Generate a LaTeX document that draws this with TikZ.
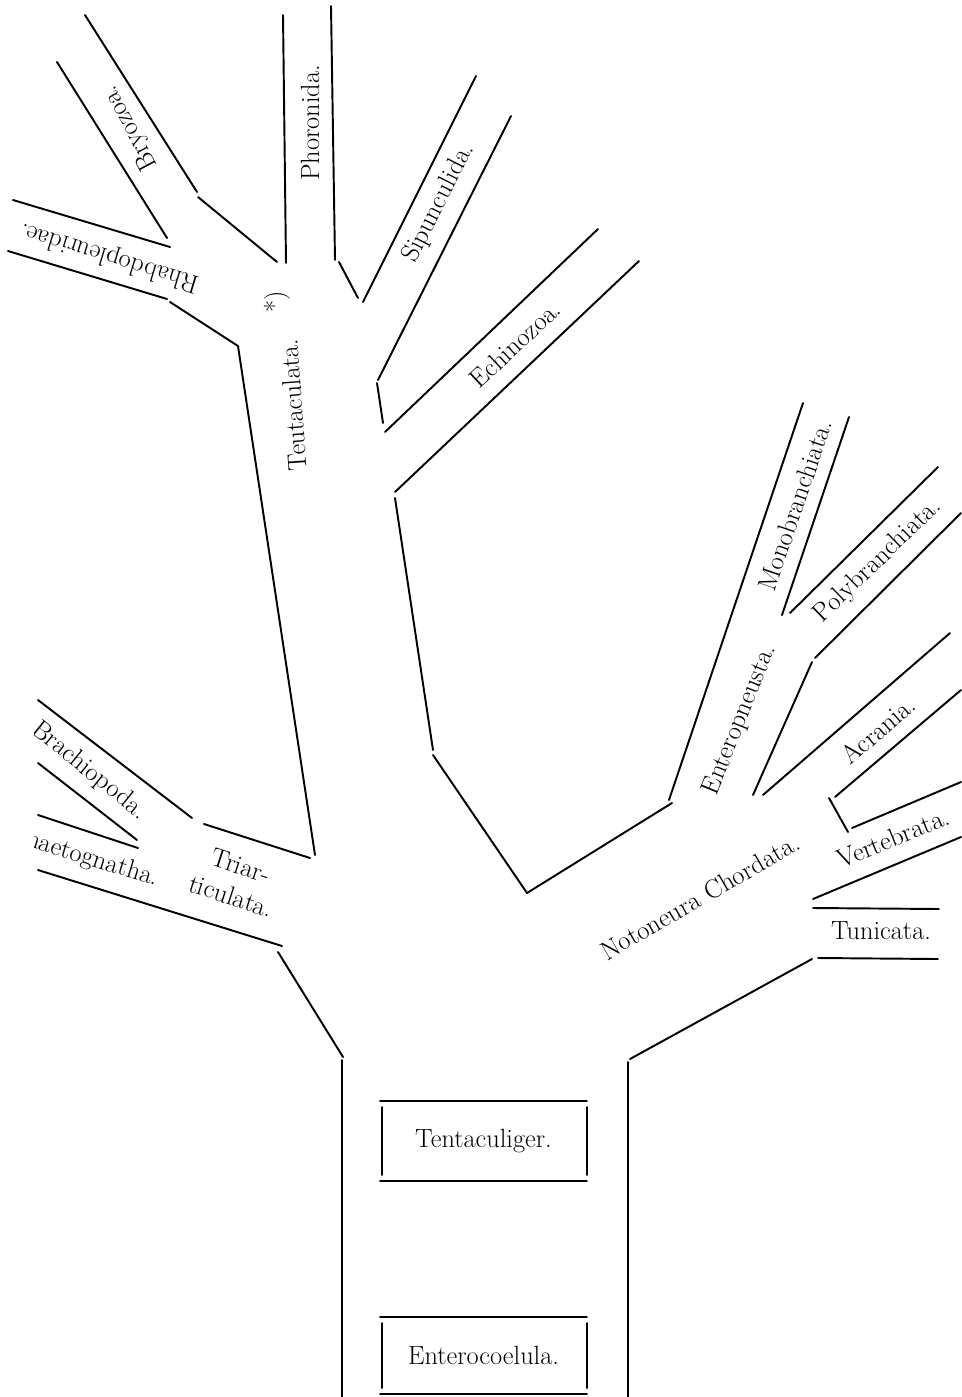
\documentclass[tikz,border=0pt]{standalone}
\begin{document}
\begin{tikzpicture}[x=0.02cm,y=-0.02cm,
zweig/.style={draw,line width=1.1pt,line cap=round},
taxon/.style={font=\fontsize{15}{18}\selectfont,inner sep=1pt}]
\newcommand\tafel[6]{
\path[zweig] (#1,#2) -- (#3,#2);
\path[zweig] (#1,#4) -- (#3,#4);
\path[zweig] (#1+2,#2+6) -- (#1+2,#4-6);
\path[zweig] (#3,#2+6) -- (#3,#4-6);
\node[taxon] (#5) at ({(#1+#3)/2},{(#2+#4)/2}) {#6};
}
\useasboundingbox (0,0) rectangle (961,1397);
\path[zweig] (85,15) -- (197,192);
\path[zweig] (57,62) -- (167,238);
\path[zweig] (198,197) -- (277,262);
\path[zweig] (13,200) -- (170,247);
\path[zweig] (8,251) -- (167,299);
\path[zweig] (170,302) -- (238,346);
\path[zweig] (238,346) -- (315,855);
\path[zweig] (283,15) -- (286,263);
\path[zweig] (331,6) -- (335,260);
\path[zweig] (339,262) -- (358,298);
\path[zweig] (363,302) -- (476,76);
\path[zweig] (378,380) -- (511,116);
\path[zweig] (377,383) -- (383,423);
\path[zweig] (385,432) -- (598,229);
\path[zweig] (395,492) -- (639,261);
\path[zweig] (395,498) -- (433,750);
\path[zweig] (433,755) -- (527,893);
\path[zweig] (527,893) -- (672,803);
\path[zweig] (669,800) -- (803,403);
\path[zweig] (782,615) -- (849,417);
\path[zweig] (790,613) -- (938,467);
\path[zweig] (815,658) -- (961,513);
\path[zweig] (812,662) -- (753,795);
\path[zweig] (763,795) -- (950,633);
\path[zweig] (835,797) -- (961,690);
\path[zweig] (829,798) -- (848,832);
\path[zweig] (852,828) -- (961,782);
\path[zweig] (813,899) -- (961,837);
\path[zweig] (813,908) -- (939,909);
\path[zweig] (818,958) -- (938,959);
\path[zweig] (812,959) -- (630,1059);
\path[zweig] (628,1062) -- (628,1397);
\path[zweig] (342,1060) -- (342,1397);
\path[zweig] (343,1057) -- (278,952);
\path[zweig] (38,870) -- (282,946);
\path[zweig] (38,815) -- (138,848);
\path[zweig] (38,763) -- (137,840);
\path[zweig] (38,700) -- (192,818);
\path[zweig] (204,824) -- (310,858);
\node[taxon,rotate=118] (bryo) at (130,128) {Bryozoa.};
\node[taxon,rotate=163] (rhab) at (110,257) {Rhabdopleuridae.};
\node[taxon,rotate=90] (phor) at (310,123) {Phoronida.};
\node[taxon,rotate=63] (sipu) at (439,203) {Sipunculida.};
\node[taxon,rotate=43] (echi) at (515,344) {Echinozoa.};
\node[taxon,rotate=94] (teut) at (293,405) {Teutaculata.};
\node[taxon,rotate=90] (stern) at (277,302) {*)};
\node[taxon,rotate=71] (mono) at (795,505) {Monobranchiata.};
\node[taxon,rotate=44] (poly) at (878,561) {Polybranchiata.};
\node[taxon,rotate=68] (ente) at (740,720) {Enteropneusta.};
\node[taxon,rotate=41] (acra) at (878,730) {Acrania.};
\node[taxon,rotate=22] (vert) at (893,838) {Vertebrata.};
\node[taxon] (tuni) at (881,931) {Tunicata.};
\node[taxon,rotate=30] (noto) at (700,897) {Notoneura Chordata.};
\node[taxon,rotate=-18,align=center] (tria) at (236,881) {Triar-\\ticulata.};
\begin{scope}
\clip (34,0) rectangle (961,1397);
\node[taxon,rotate=-39] (brach) at (89,771) {Brachiopoda.};
\node[taxon,rotate=-17] (chaet) at (84,857) {Chaetognatha.};
\end{scope}
\tafel{380}{1101}{587}{1181}{tent}{Tentaculiger.}
\tafel{380}{1317}{587}{1394}{coel}{Enterocoelula.}
\end{tikzpicture}
\end{document}
